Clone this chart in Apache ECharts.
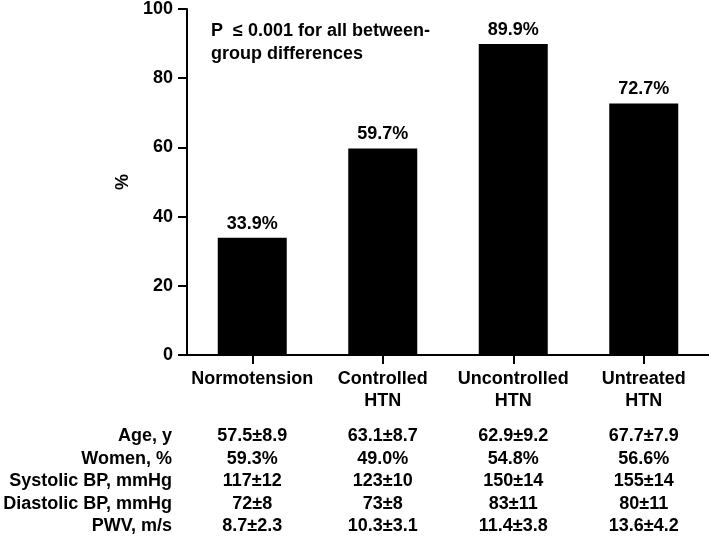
<!DOCTYPE html>
<html>
<head>
<meta charset="utf-8">
<script src="https://cdn.jsdelivr.net/npm/echarts@6/dist/echarts.min.js"></script>
<style>
html,body{margin:0;padding:0;background:#fff;}
#main{width:709px;height:537px;}
</style>
</head>
<body>
<div id="main"></div>
<script>
var categories = ['Normotension', 'Controlled\nHTN', 'Uncontrolled\nHTN', 'Untreated\nHTN'];
var percentValues = [33.9, 59.7, 89.9, 72.7];
var yTicks = [0, 20, 40, 60, 80, 100];
var noteLines = ['P  \u2264 0.001 for all between-', 'group differences'];
var rowLabels = ['Age, y', 'Women, %', 'Systolic BP, mmHg', 'Diastolic BP, mmHg', 'PWV, m/s'];
var ageValues = ['57.5\u00b18.9', '63.1\u00b18.7', '62.9\u00b19.2', '67.7\u00b17.9'];
var womenValues = ['59.3%', '49.0%', '54.8%', '56.6%'];
var sbpValues = ['117\u00b112', '123\u00b110', '150\u00b114', '155\u00b114'];
var dbpValues = ['72\u00b18', '73\u00b18', '83\u00b111', '80\u00b111'];
var pwvValues = ['8.7\u00b12.3', '10.3\u00b13.1', '11.4\u00b13.8', '13.6\u00b14.2'];
var tableRows = [ageValues, womenValues, sbpValues, dbpValues, pwvValues];

var FONT = '"Liberation Sans", Arial, sans-serif';
var chart = echarts.init(document.getElementById('main'), null, {renderer: 'canvas'});
var option = {
  backgroundColor: '#fff',
  animation: false,
  grid: {left: 187, right: 0, top: 6, bottom: 182, containLabel: false},
  xAxis: {
    type: 'category',
    data: categories,
    axisLine: {lineStyle: {color: '#000', width: 2}},
    axisTick: {show: true, inside: false, interval: 0, alignWithLabel: true, length: 9, lineStyle: {color: '#000', width: 2}},
    axisLabel: {show: true, inside: false, interval: 0, color: '#000', fontFamily: FONT, fontWeight: 'bold', fontSize: 18, lineHeight: 22, margin: 13}
  },
  yAxis: {
    type: 'value',
    min: yTicks[0], max: yTicks[yTicks.length - 1], interval: 20,
    name: '%', nameLocation: 'middle', nameGap: 45, nameRotate: 90,
    nameTextStyle: {color: '#000', fontFamily: FONT, fontWeight: 'bold', fontSize: 18},
    axisLine: {show: true, lineStyle: {color: '#000', width: 2}},
    axisTick: {show: true, inside: false, length: 9, lineStyle: {color: '#000', width: 2}},
    splitLine: {show: false},
    axisLabel: {show: true, inside: false, color: '#000', fontFamily: FONT, fontWeight: 'bold', fontSize: 18, margin: 14}
  },
  series: [{
    type: 'bar',
    data: percentValues,
    barWidth: 69,
    itemStyle: {color: '#000'},
    label: {show: true, position: 'top', distance: 5, formatter: '{c}%', color: '#000',
      fontFamily: FONT, fontWeight: 'bold', fontSize: 18}
  }]
};
chart.setOption(option);

var graphics = [];
noteLines.forEach(function (t, i) {
  graphics.push({type: 'text', left: 211, top: 22 + i * 23,
    style: {text: t, fill: '#000', font: 'bold 18px ' + FONT}});
});
var rowY0 = 436, rowStep = 22.6;
rowLabels.forEach(function (lab, r) {
  var y = rowY0 + r * rowStep;
  graphics.push({type: 'text', x: 172, y: y,
    style: {text: lab, fill: '#000', font: 'bold 18px ' + FONT, textAlign: 'right', textVerticalAlign: 'middle'}});
  tableRows[r].forEach(function (v, c) {
    var px = chart.convertToPixel({xAxisIndex: 0}, c);
    graphics.push({type: 'text', x: px, y: y,
      style: {text: v, fill: '#000', font: 'bold 18px ' + FONT, textAlign: 'center', textVerticalAlign: 'middle'}});
  });
});
chart.setOption({graphic: graphics});
</script>
</body>
</html>
